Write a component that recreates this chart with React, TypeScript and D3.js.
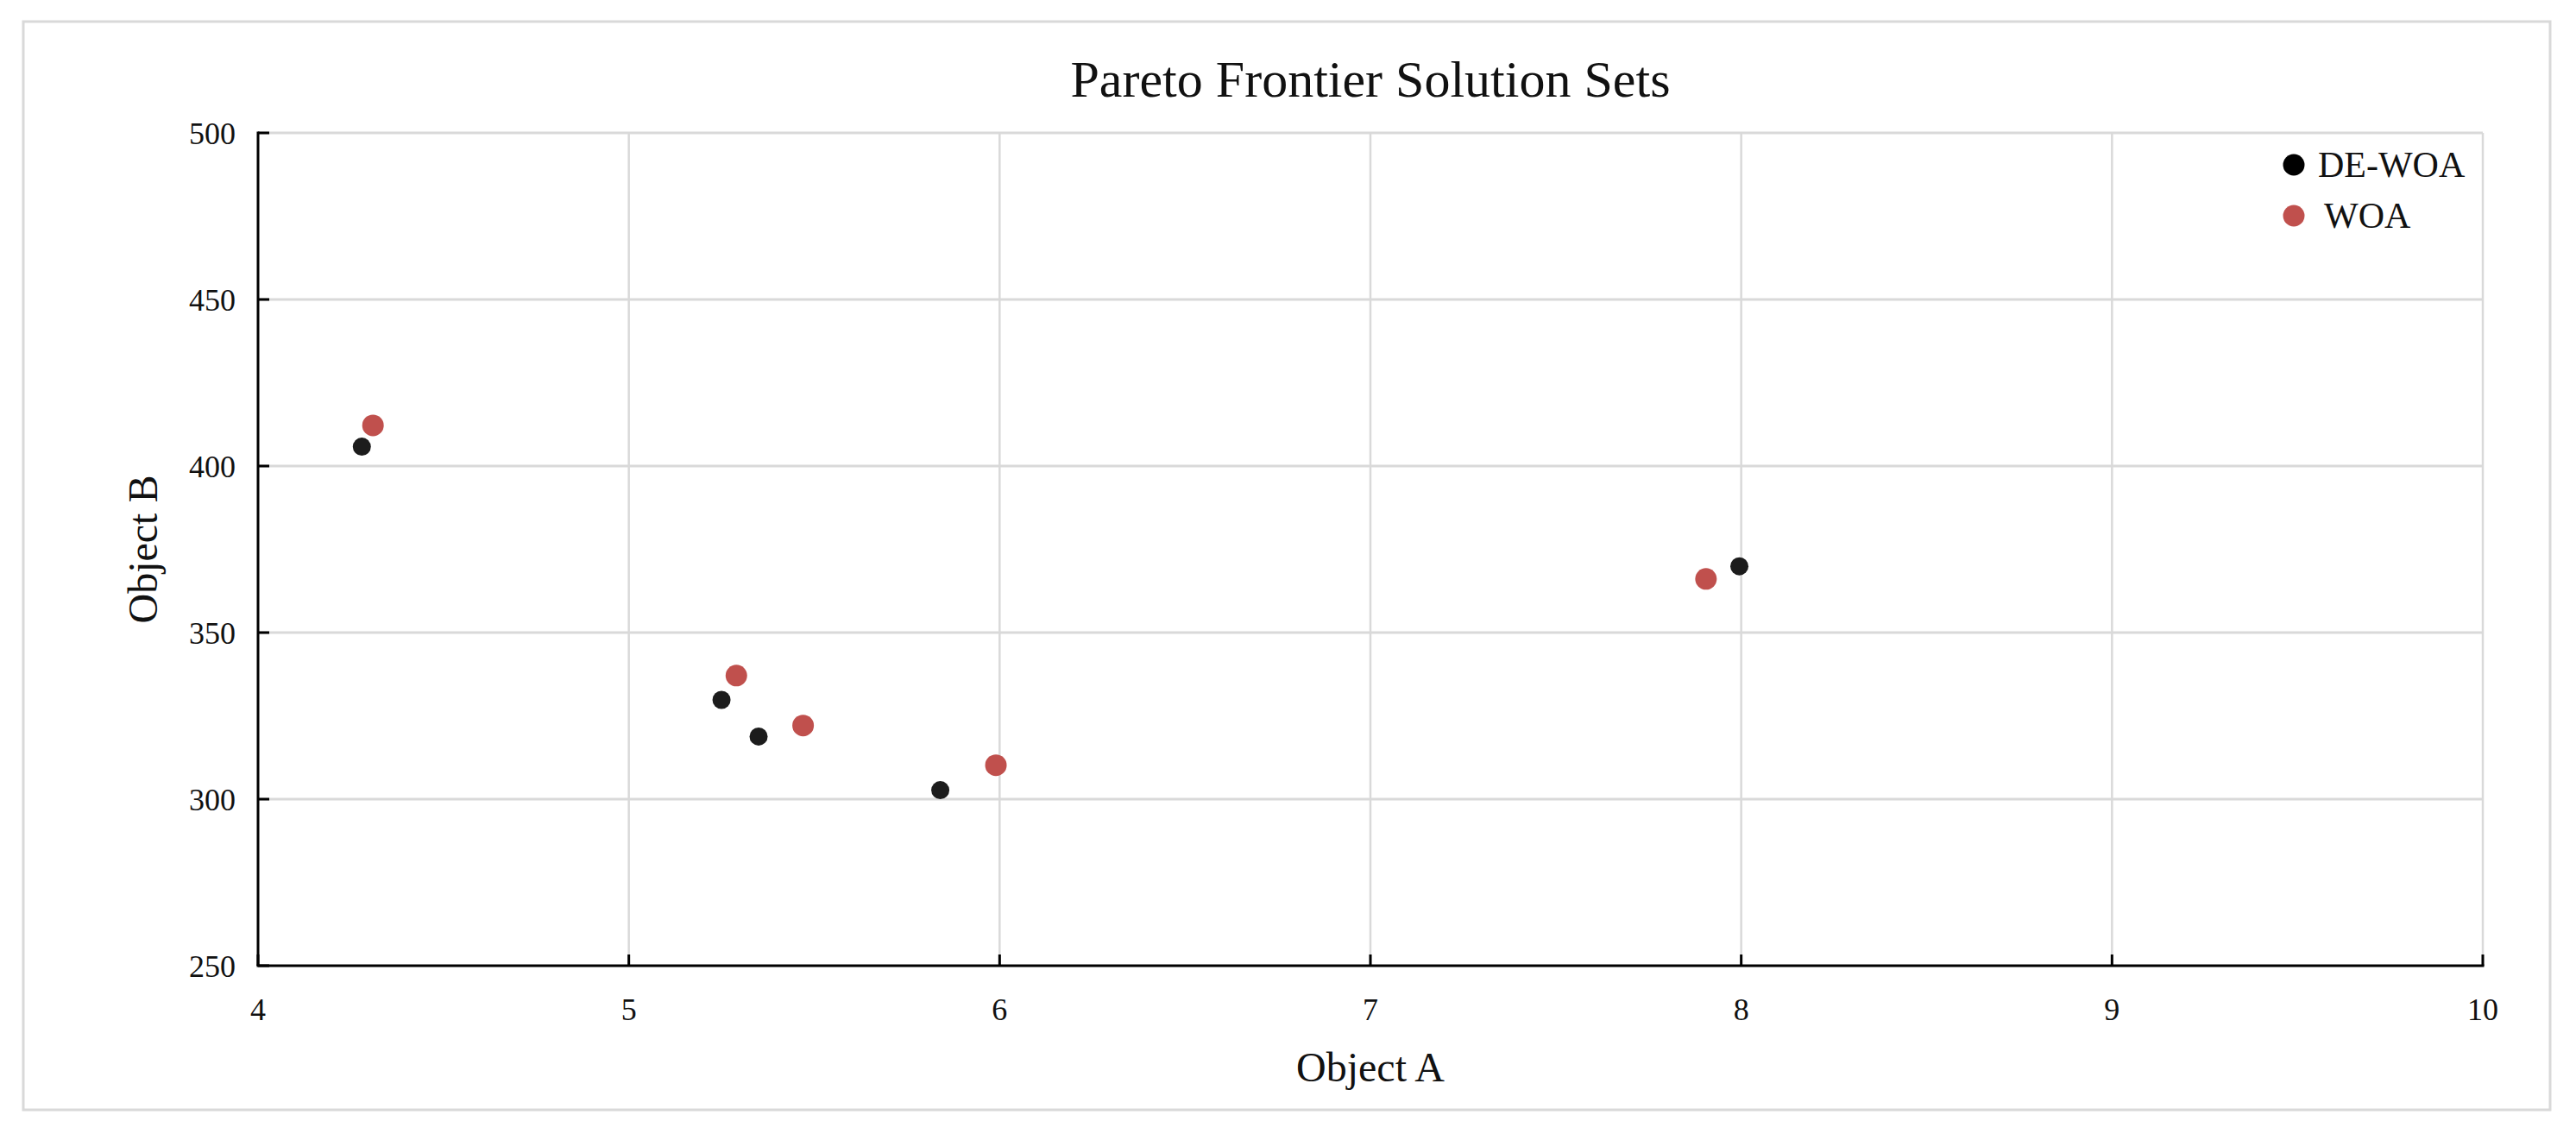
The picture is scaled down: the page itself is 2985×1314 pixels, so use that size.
import React from "react";
import * as d3 from "d3";

const deWoaA = [4.28, 5.25, 5.35, 5.84, 7.995];
const deWoaB = [405.8, 329.8, 318.8, 302.7, 369.9];
const woaA = [4.31, 5.29, 5.47, 5.99, 7.905];
const woaB = [412.2, 337.1, 322.1, 310.2, 366.1];
const xTicks = [4, 5, 6, 7, 8, 9, 10];
const yTicks = [250, 300, 350, 400, 450, 500];
const seriesNames = ["DE-WOA", "WOA"];
const seriesColors = ["#1c1c1c", "#c0504d"];

const W = 2985;
const H = 1314;
const M = { left: 299, right: 2877, top: 154, bottom: 1119 };
const FONT = "'Liberation Serif', 'Times New Roman', serif";

export default function App() {
  const x = d3.scaleLinear().domain([4, 10]).range([M.left, M.right]);
  const y = d3.scaleLinear().domain([250, 500]).range([M.bottom, M.top]);
  const series = [
    { name: seriesNames[0], color: seriesColors[0], r: 10.5, pts: d3.zip(deWoaA, deWoaB) },
    { name: seriesNames[1], color: seriesColors[1], r: 12.5, pts: d3.zip(woaA, woaB) },
  ];
  const grid = "#d9d9d9";
  const tick = 13;
  return (
    <svg width={W} height={H} style={{ position: "absolute", left: 0, top: 0, background: "#fff" }} fontFamily={FONT}>
      <rect x={0} y={0} width={W} height={H} fill="#fff" />
      <rect x={27} y={25} width={2928} height={1261} fill="#fff" stroke={grid} strokeWidth={3} />
      <text x={(M.left + M.right) / 2} y={112} textAnchor="middle" fontSize={60} fill="#111">
        Pareto Frontier Solution Sets
      </text>
      {xTicks.slice(1).map((t) => (
        <line key={"gx" + t} x1={x(t)} x2={x(t)} y1={M.top} y2={M.bottom} stroke={grid} strokeWidth={2.5} />
      ))}
      {yTicks.slice(1).map((t) => (
        <line key={"gy" + t} x1={M.left} x2={M.right} y1={y(t)} y2={y(t)} stroke={grid} strokeWidth={3} />
      ))}
      <line x1={M.left} x2={M.left} y1={M.top - 1.5} y2={M.bottom} stroke="#000" strokeWidth={3} />
      <line x1={M.left - 1.5} x2={M.right + 1.5} y1={M.bottom} y2={M.bottom} stroke="#000" strokeWidth={3} />
      {yTicks.map((t) => (
        <g key={"ty" + t}>
          <line x1={M.left} x2={M.left + tick} y1={y(t)} y2={y(t)} stroke="#000" strokeWidth={3} />
          <text x={M.left - 26} y={y(t)} dy="0.35em" textAnchor="end" fontSize={36} fill="#111">
            {t}
          </text>
        </g>
      ))}
      {xTicks.map((t) => (
        <g key={"tx" + t}>
          <line x1={x(t)} x2={x(t)} y1={M.bottom} y2={M.bottom - tick} stroke="#000" strokeWidth={3} />
          <text x={x(t)} y={1182} textAnchor="middle" fontSize={36} fill="#111">
            {t}
          </text>
        </g>
      ))}
      <text x={(M.left + M.right) / 2} y={1253} textAnchor="middle" fontSize={48} fill="#111">
        Object A
      </text>
      <text
        transform={`translate(182, ${(M.top + M.bottom) / 2}) rotate(-90)`}
        textAnchor="middle"
        fontSize={48}
        fill="#111"
      >
        Object B
      </text>
      {series.map((s) =>
        s.pts.map((p, i) => (
          <circle key={s.name + i} cx={x(p[0])} cy={y(p[1])} r={s.r} fill={s.color} />
        ))
      )}
      {series.map((s, i) => (
        <g key={"lg" + s.name} transform={`translate(2658, ${191 + i * 59})`}>
          <circle cx={0} cy={0} r={12.5} fill={i === 0 ? "#000" : s.color} />
          <text x={i === 0 ? 28 : 35} y={14} fontSize={42} fill="#111">
            {s.name}
          </text>
        </g>
      ))}
    </svg>
  );
}
